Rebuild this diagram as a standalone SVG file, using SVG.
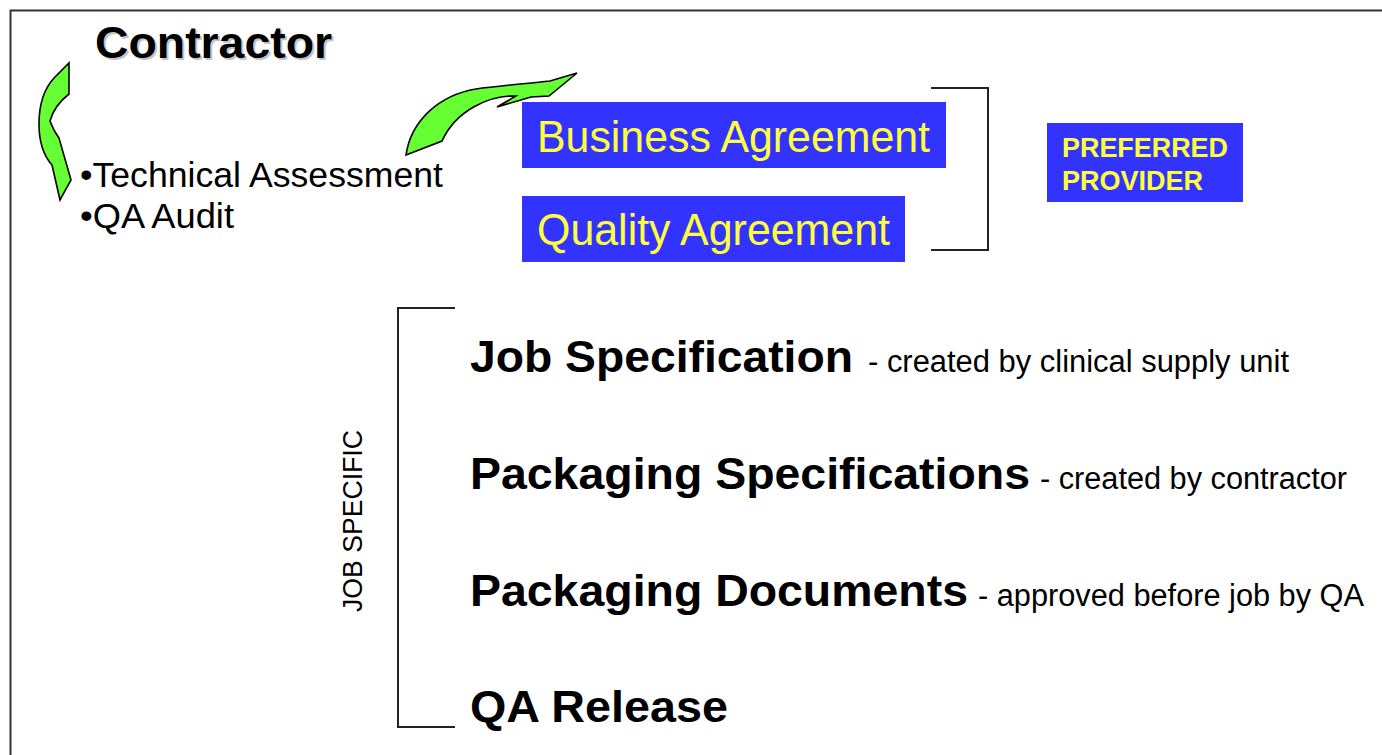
<svg xmlns="http://www.w3.org/2000/svg" width="1382" height="755" viewBox="0 0 1382 755">
  <style>
    .bold { font-family: "Liberation Sans", Arial, sans-serif; font-weight: bold; fill: #000; }
    .reg { font-family: "Liberation Sans", Arial, sans-serif; fill: #000; }
    .box { fill: #3333ff; }
    .ylw { font-family: "Liberation Sans", Arial, sans-serif; fill: #ffff3c; }
    .arrow { fill: #66ff33; stroke: #000; stroke-width: 1.6; stroke-linejoin: miter; }
    .brace { fill: none; stroke: #222; stroke-width: 2; }
    .shadow { fill: #c4c4c4; }
  </style>

  <rect width="1382" height="755" fill="#fff"/>
  <!-- frame -->
  <path d="M10.5,755 V10.5 H1382" fill="none" stroke="#333" stroke-width="2"/>

  <!-- heading -->
  <g id="contractor">
    <text class="bold shadow" x="97" y="60" font-size="45" textLength="237" lengthAdjust="spacingAndGlyphs">Contractor</text>
    <text class="bold" x="95" y="58" font-size="45" textLength="237" lengthAdjust="spacingAndGlyphs">Contractor</text>
  </g>

  <g id="assessment">
    <text class="reg" x="80" y="187" font-size="35" textLength="363" lengthAdjust="spacingAndGlyphs">•Technical Assessment</text>
    <text class="reg" x="80" y="228" font-size="35" textLength="154" lengthAdjust="spacingAndGlyphs">•QA Audit</text>
  </g>

  <!-- curved arrows and brackets -->
  <g id="connectors">
    <path class="arrow" d="M54,78 L69,63 L69,94 C60,101 53,110 50,121 C53,129 56,134 59,138 L71,180 L60,200 L52,165 C43,155 39,140 39,124 C39,104 44,89 54,78 Z"/>
    <path class="arrow" d="M406,155 C411,120 440,95 476,89 C497,86 522,84 550,81 L577,73 L549,96 L531,97 L497,107 L516,96 C490,95 456,110 442,141 Z"/>
    <!-- agreement bracket -->
    <path class="brace" d="M931,88 H988 V250 H931"/>
    <!-- job specific bracket -->
    <path class="brace" d="M455,308 H398 V727 H455"/>
  </g>

  <g id="business-agreement">
    <rect class="box" x="522" y="102" width="424" height="66"/>
    <text class="ylw" x="537" y="152" font-size="44" textLength="393" lengthAdjust="spacingAndGlyphs">Business Agreement</text>
  </g>

  <g id="quality-agreement">
    <rect class="box" x="522" y="196" width="383" height="66"/>
    <text class="ylw" x="537" y="245" font-size="44" textLength="353" lengthAdjust="spacingAndGlyphs">Quality Agreement</text>
  </g>

  <g id="preferred-provider">
    <rect class="box" x="1047" y="123" width="196" height="79"/>
    <text class="ylw" x="1062" y="157" font-size="27" font-weight="bold" textLength="166" lengthAdjust="spacingAndGlyphs">PREFERRED</text>
    <text class="ylw" x="1062" y="190" font-size="27" font-weight="bold" textLength="141" lengthAdjust="spacingAndGlyphs">PROVIDER</text>
  </g>

  <g id="job-specific">
    <text class="reg" transform="translate(362,521) rotate(-90)" text-anchor="middle" font-size="27" textLength="182" lengthAdjust="spacingAndGlyphs">JOB SPECIFIC</text>
  </g>

  <g id="job-specification">
    <text class="bold" x="470" y="372" font-size="45" textLength="383" lengthAdjust="spacingAndGlyphs">Job Specification</text>
    <text class="reg" x="868" y="372" font-size="31" textLength="421" lengthAdjust="spacingAndGlyphs">- created by clinical supply unit</text>
  </g>

  <g id="packaging-specifications">
    <text class="bold" x="470" y="489" font-size="45" textLength="560" lengthAdjust="spacingAndGlyphs">Packaging Specifications</text>
    <text class="reg" x="1040" y="489" font-size="31" textLength="307" lengthAdjust="spacingAndGlyphs">- created by contractor</text>
  </g>

  <g id="packaging-documents">
    <text class="bold" x="470" y="606" font-size="45" textLength="498" lengthAdjust="spacingAndGlyphs">Packaging Documents</text>
    <text class="reg" x="978" y="606" font-size="31" textLength="386" lengthAdjust="spacingAndGlyphs">- approved before job by QA</text>
  </g>

  <g id="qa-release">
    <text class="bold" x="470" y="722" font-size="45" textLength="258" lengthAdjust="spacingAndGlyphs">QA Release</text>
  </g>
</svg>
